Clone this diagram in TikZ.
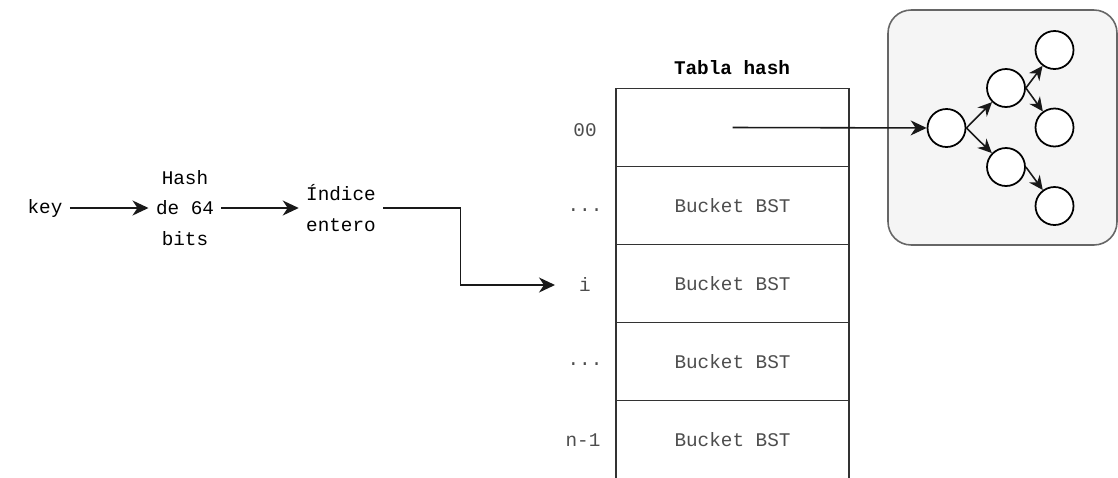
\documentclass[tikz,border=0pt]{standalone}
\usepackage{fontspec}
\setmonofont{Liberation Mono}
\usetikzlibrary{arrows.meta, positioning}
\definecolor{treefill}{HTML}{F5F5F5}
\definecolor{treeline}{HTML}{666666}
\definecolor{celltext}{HTML}{4D4D4D}

\begin{document}
\begin{tikzpicture}[x=0.02cm,y=-0.02cm,
    font=\ttfamily\fontsize{11}{17.5}\selectfont,
    line width=0.9pt, draw=black!90,
    >={Stealth[length=0.32cm,width=0.3cm,inset=0.1cm]},
    steplbl/.style={align=center,inner sep=0pt,outer sep=0.15cm},
    cellbox/.style={draw=black!80,minimum width=4.66cm,minimum height=1.56cm,inner sep=0pt,outer sep=0pt,text=celltext},
    rowlbl/.style={text=celltext,inner sep=0pt},
    treenode/.style={circle,draw=black,line width=1pt,fill=white,minimum size=0.76cm,inner sep=0pt},
    treearrow/.style={->,>={Stealth[length=0.28cm,width=0.26cm,inset=0.09cm]}}]
    \clip (0,0) rectangle (1118,477);
    \useasboundingbox (0,0) rectangle (1118,477);

    % Add the steps on the left
        \node[steplbl] (key) at (45,208) {key};
        \node[steplbl] (hash) at (185,208) {Hash\\de 64\\bits};
        \node[steplbl] (indice) at (341,208) {Índice\\entero};

    % Add the hash table
        \node[font=\ttfamily\bfseries\fontsize{11}{13}\selectfont] (title) at (732,68) {Tabla hash};
        \node[cellbox] (row0) at (732.5,127.5) {};
        \node[cellbox,below=0pt of row0] (row1) {Bucket BST};
        \node[cellbox,below=0pt of row1] (row2) {Bucket BST};
        \node[cellbox,below=0pt of row2] (row3) {Bucket BST};
        \node[cellbox,below=0pt of row3] (row4) {Bucket BST};

        \node[rowlbl] (l0) at (585,130) {00};
        \node[rowlbl] (l1) at (585,210) {...};
        \node[rowlbl] (l2) at (585,284) {i};
        \node[rowlbl] (l3) at (585,364) {...};
        \node[rowlbl] (l4) at (583,440) {n-1};
        \coordinate (ientry) at (555,285);

    % Add the BST
        \node[draw=treeline,fill=treefill,rounded corners=0.46cm,minimum width=4.58cm,minimum height=4.7cm] (tree) at (1002.5,127.5) {};
        \node[treenode] (n0) at (946.5,128) {};
        \node[treenode] (n1) at (1006,88) {};
        \node[treenode] (n2) at (1006,167) {};
        \node[treenode] (n3) at (1054.5,50) {};
        \node[treenode] (n4) at (1054.5,127.5) {};
        \node[treenode] (n5) at (1054.5,206) {};

    % Connect everything with arrows
        \draw[->] (key) -- (hash);
        \draw[->] (hash) -- (indice);
        \draw[->] (indice.east) -- ++(77,0) |- (ientry);
        \draw[->] (row0.center) -- (n0);
        \draw[treearrow] (n0.east) -- (n1);
        \draw[treearrow] (n0.east) -- (n2);
        \draw[treearrow] (n1.east) -- (n3);
        \draw[treearrow] (n1.east) -- (n4);
        \draw[treearrow] (n2.east) -- (n5);
\end{tikzpicture}
\end{document}
